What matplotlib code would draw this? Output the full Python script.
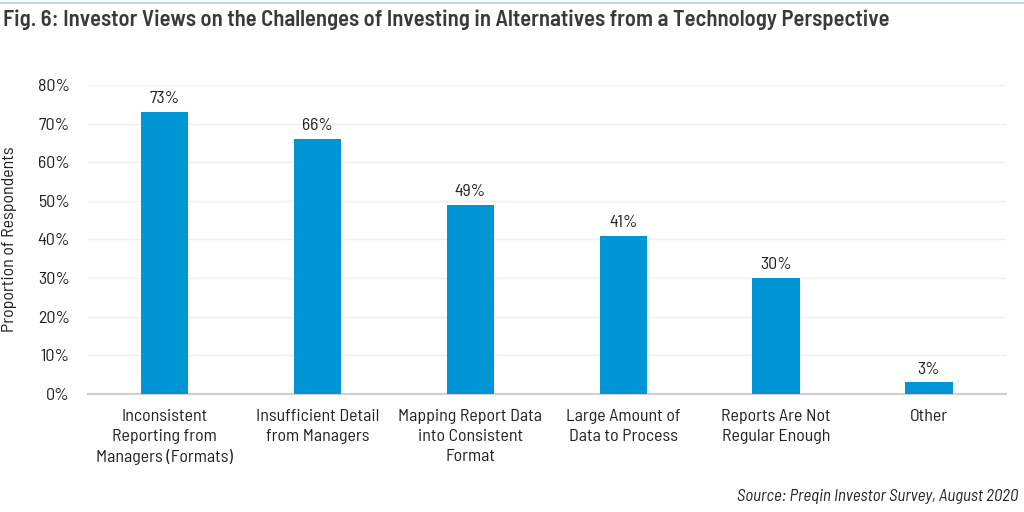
import matplotlib
matplotlib.use("Agg")
import matplotlib.pyplot as plt
from matplotlib.ticker import PercentFormatter

# data
categories = [
    "Inconsistent\nReporting from\nManagers (Formats)",
    "Insufficient Detail\nfrom Managers",
    "Mapping Report Data\ninto Consistent\nFormat",
    "Large Amount of\nData to Process",
    "Reports Are Not\nRegular Enough",
    "Other",
]
values = [73, 66, 49, 41, 30, 3]
value_labels = ["73%", "66%", "49%", "41%", "30%", "3%"]

plt.rcParams['font.family'] = ['Barlow Semi Condensed', 'DejaVu Sans']

fig = plt.figure(figsize=(10.24, 5.12), dpi=100)
ax = fig.add_axes([0.086, 0.2305, 0.896, 0.6035])

x = range(len(values))
bars = ax.bar(x, values, width=0.31, color="#0096D6", zorder=3)
for b, lab in zip(bars, value_labels):
    ax.text(b.get_x() + b.get_width() / 2, b.get_height() + 1.5, lab,
            ha="center", va="bottom", fontsize=12.8, color="#222222")

ax.set_xlim(-0.5, 5.5)
ax.set_ylim(0, 80)
ax.set_yticks(range(0, 81, 10))
ax.yaxis.set_major_formatter(PercentFormatter(decimals=0))
ax.set_xticks(list(x))
ax.set_xticklabels(categories, fontsize=12.9, color="#222222", linespacing=1.4, va="top")
ax.tick_params(axis="y", labelsize=12.9, colors="#222222", length=0, pad=13)
ax.tick_params(axis="x", length=0, pad=11)
ax.grid(axis="y", color="#eeeeee", linewidth=1, zorder=0)
for s in ["top", "right", "left"]:
    ax.spines[s].set_visible(False)
ax.spines["bottom"].set_color("#d0d0d0")
ax.spines["bottom"].set_linewidth(1.5)
ax.set_ylabel("Proportion of Respondents", fontsize=12.9, color="#222222", labelpad=15)

# header line and title
fig.add_artist(plt.Line2D([0, 1], [0.994, 0.994], color="#a8d4ee", linewidth=1.2))
fig.text(0.003, 0.962, "Fig. 6: Investor Views on the Challenges of Investing in Alternatives from a Technology Perspective",
         fontsize=16.3, fontweight="semibold", color="#3a3a3a", va="center", ha="left")
fig.text(0.994, 0.031, "Source: Preqin Investor Survey, August 2020",
         fontsize=12.2, style="italic", color="#222222", ha="right", va="center")

fig.savefig("out.png", dpi=100)
